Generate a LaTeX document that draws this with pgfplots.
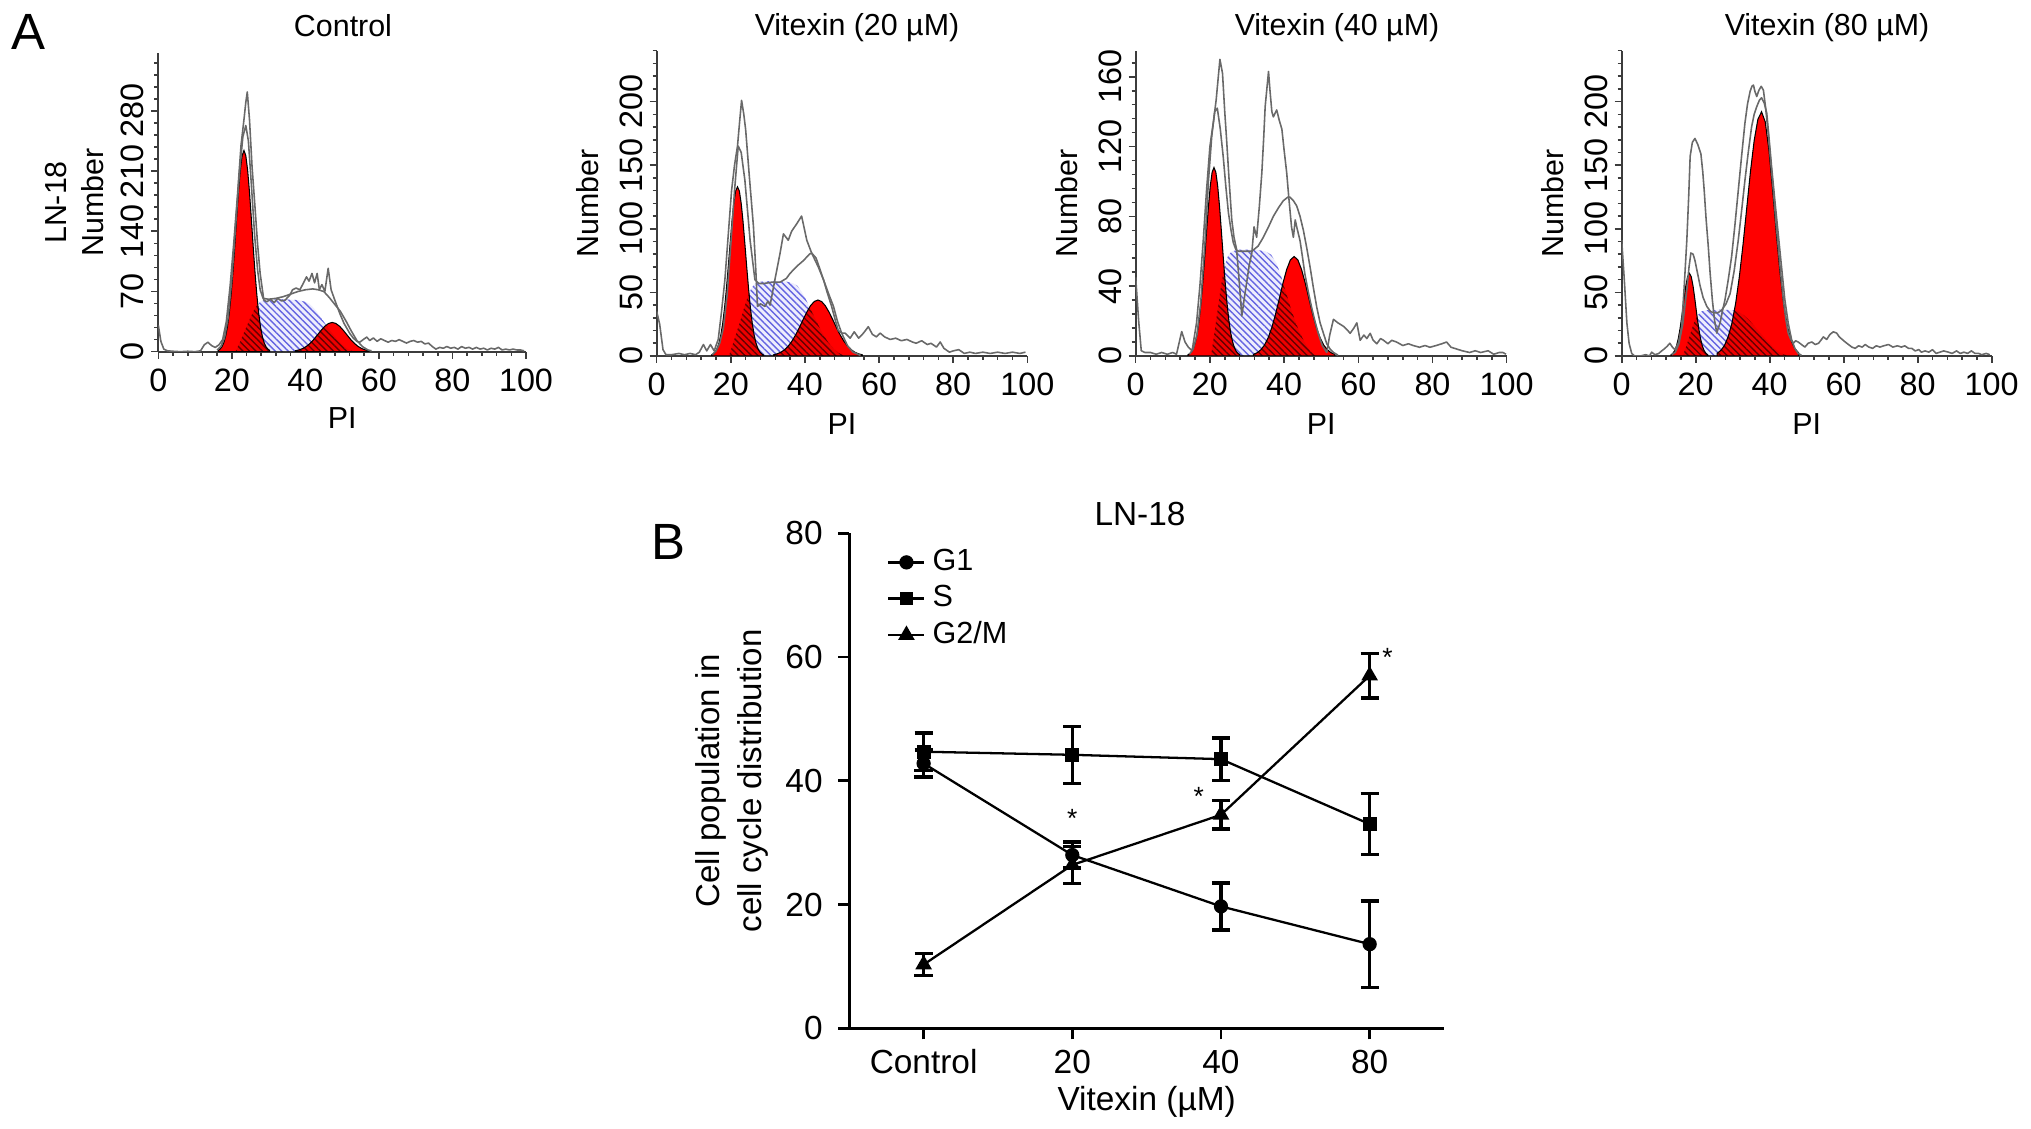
\documentclass[border=0pt]{standalone}
\usepackage{fontspec}
\setmainfont{Liberation Sans}
\usepackage{pgfplots}
\pgfplotsset{compat=1.18}
\usetikzlibrary{patterns.meta}

\definecolor{histred}{RGB}{255,0,0}
\definecolor{hatchblue}{RGB}{110,110,228}
\definecolor{sfill}{RGB}{238,238,253}
\definecolor{histgray}{RGB}{105,105,105}
\definecolor{axgray}{RGB}{60,60,60}

\newcommand{\fA}{\fontsize{9.2}{10.5}\selectfont}
\newcommand{\fAt}{\fontsize{8.65}{10}\selectfont}
\newcommand{\fB}{\fontsize{9.5}{11}\selectfont}

\pgfplotsset{
  histo/.style={
    anchor=south west, scale only axis,
    axis lines*=left,
    xmin=0, xmax=100, ymin=0,
    xtick={0,20,...,100}, minor x tick num=4, minor y tick num=4,
    tick align=outside,
    major tick length=0.7mm, minor tick length=0.4mm,
    axis line style={axgray, line width=0.55pt},
    every tick/.append style={axgray, line width=0.45pt},
    tick label style={font=\fA},
    xticklabel style={anchor=center, yshift=-2.15mm},
    yticklabel style={anchor=center, xshift=-1.85mm, rotate=90},
    xlabel={PI},
    xlabel style={at={(axis description cs:0.5,-0.222)}, anchor=center, font=\fAt},
    ylabel style={at={(axis description cs:-0.186,0.5)}, anchor=center, align=center, font=\fontsize{8.65}{10.5}\selectfont},
    /pgf/number format/assume math mode=true,
    scaled y ticks=false,
  },
  raw/.style={histgray, line width=0.45pt, mark=none, line join=round},
  gpeak/.style={fill=histred, draw=black, line width=0.3pt, mark=none},
  sfillst/.style={draw=none, fill=sfill, blend mode=multiply, mark=none},
  shatch/.style={draw=none, pattern={Lines[angle=-45,distance=1.3pt,line width=0.4pt]}, pattern color=hatchblue, blend mode=multiply, mark=none},
}

\begin{document}
\begin{tikzpicture}
\useasboundingbox (0,0) rectangle (20.31,11.29);

% ---------------- Panel A: Control ----------------
\begin{axis}[histo, at={(1.583cm,7.773cm)}, width=3.677cm, height=2.984cm,
  ymax=347, ytick={0,70,...,350}, ylabel={LN-18\\Number},
  ylabel style={at={(axis description cs:-0.228,0.5)}}]
\addplot[gpeak] coordinates {(16.3,1.5) (16.8,3.0) (17.3,5.7) (17.8,10.3) (18.3,17.7) (18.8,28.9) (19.3,44.8) (19.8,66) (20.3,92.4) (20.8,122.7) (21.3,155) (21.8,185.5) (22.3,211) (22.8,228) (23.3,234) (23.8,228) (24.3,211) (24.8,185.5) (25.3,155) (25.8,122.7) (26.3,92.4) (26.8,66) (27.3,44.8) (27.8,28.9) (28.3,17.7) (28.8,10.3) (29.3,5.7) (29.8,3.0) (30.3,1.5)} \closedcycle;
\addplot[gpeak] coordinates {(37.3,1.1) (38.3,2.1) (39.3,3.7) (40.3,6.2) (41.3,9.8) (42.3,14.3) (43.3,19.6) (44.3,24.9) (45.3,29.6) (46.3,32.8) (47.3,34) (48.3,32.8) (49.3,29.6) (50.3,24.9) (51.3,19.6) (52.3,14.3) (53.3,9.8) (54.3,6.2) (55.3,3.7) (56.3,2.1) (57.3,1.1)} \closedcycle;
\addplot[sfillst] coordinates {(21,0) (22,9) (23,19) (24,29) (25,39) (26,48) (27,55) (28,59) (30,60.5) (34,61) (38,60) (40,58) (41,56) (42,52) (43,47) (44,41) (45,35) (46,29) (47,23) (48,17.5) (49,12.5) (50,8) (51,4.5) (52,2) (53,0.5) (54,0)} \closedcycle;
\addplot[shatch] coordinates {(21,0) (22,9) (23,19) (24,29) (25,39) (26,48) (27,55) (28,59) (30,60.5) (34,61) (38,60) (40,58) (41,56) (42,52) (43,47) (44,41) (45,35) (46,29) (47,23) (48,17.5) (49,12.5) (50,8) (51,4.5) (52,2) (53,0.5) (54,0)} \closedcycle;
% model fit
\addplot[raw] coordinates {(16,2) (17,6) (18,16) (19,40) (20,85) (21,145) (22,205) (23,250) (23.8,263) (24.5,245) (25.3,195) (26.2,135) (27,95) (27.7,72) (28.5,62) (30,61) (32,62) (34,64) (36,67) (38,70) (40,72) (42,73) (43.5,72) (45,70) (46.5,63) (48,55) (49.5,47) (51,36) (52.5,24) (54,13) (55.5,6) (57,2) (58,1)};
% measured histogram
\addplot[raw] coordinates {(0,31) (0.7,12) (1.5,3) (2.5,1) (4,0.5) (6,0) (8,0.5) (10,0) (11.5,1) (12.5,8) (13.5,11) (14.5,7) (15.5,5) (16.5,8) (17.5,14) (18.5,35) (19.5,75) (20.5,125) (21.5,180) (22.5,240) (23.3,270) (23.8,290) (24.2,302) (24.8,270) (25.5,215) (26.3,168) (27,125) (27.7,91) (28.7,60) (29.5,58) (30.5,61) (31.5,57) (32.5,62) (33.5,59) (34.5,60) (35.8,66) (36.5,72) (37.5,74) (38.5,72) (39.5,80) (40.3,87) (41,82) (41.8,91) (42.5,80) (43.2,91) (43.8,72) (44.5,78) (45.3,70) (46.2,97) (47,72) (48,60) (49.4,44) (50.5,33) (51.3,27) (52.1,21) (53,16) (54,12) (54.8,11) (55.7,14) (56.7,17) (57.5,13) (58.5,16) (59.5,12) (60.5,15) (61.5,13) (62.5,11) (63.5,13) (64.5,12) (65.5,14) (66.5,12) (67.5,10) (68.5,12) (69.5,13) (70.5,11) (71.5,12) (72.5,9) (73.5,10) (74.5,6) (75.5,3) (76.5,5) (77.5,4) (78.5,6) (79.5,4) (80.5,5) (81.5,3) (82.5,6) (83.5,4) (84.5,5) (85.5,3) (86.5,5) (87.5,3) (88.5,4) (89.5,2) (90.5,4) (91.5,3) (92.5,5) (93.5,2) (94.5,3) (95.5,2) (96.5,3) (97.5,2) (98.5,2) (99.5,1)};
\end{axis}

% ---------------- Panel A: Vitexin 20 ----------------
\begin{axis}[histo, at={(6.567cm,7.73cm)}, width=3.706cm, height=3.053cm,
  ymax=240, ytick={0,50,...,250}, ylabel={Number}]
\addplot[gpeak] coordinates {(14.8,0.8) (15.3,1.7) (15.8,3.2) (16.3,5.9) (16.8,10.1) (17.3,16.4) (17.8,25.4) (18.3,37.5) (18.8,52.5) (19.3,69.7) (19.8,87.9) (20.3,105.5) (20.8,120) (21.3,129.7) (21.8,133) (22.3,129.7) (22.8,120) (23.3,105.5) (23.8,87.9) (24.3,69.7) (24.8,52.5) (25.3,37.5) (25.8,25.4) (26.3,16.4) (26.8,10.1) (27.3,5.9) (27.8,3.2) (28.3,1.7) (28.8,0.8)} \closedcycle;
\addplot[gpeak] coordinates {(31.5,0.9) (32.5,1.7) (33.5,2.9) (34.5,4.9) (35.5,7.8) (36.5,11.7) (37.5,16.6) (38.5,22.4) (39.5,28.6) (40.5,34.5) (41.5,39.5) (42.5,42.8) (43.5,44) (44.5,42.8) (45.5,39.5) (46.5,34.5) (47.5,28.6) (48.5,22.4) (49.5,16.6) (50.5,11.7) (51.5,7.8) (52.5,4.9) (53.5,2.9) (54.5,1.7) (55.5,0.9)} \closedcycle;
\addplot[sfillst] coordinates {(19.5,0) (20.5,9) (21.5,18) (22.5,27) (23.5,37) (24.5,46) (25.5,53) (26.5,57) (28,58.5) (32,59) (35,58.5) (37,57) (38,55) (39,51) (40,46) (41,40) (42,34) (43,28) (44,22) (45,16.5) (46,12) (47,8) (48,5) (49,2.5) (50,1) (51,0)} \closedcycle;
\addplot[shatch] coordinates {(19.5,0) (20.5,9) (21.5,18) (22.5,27) (23.5,37) (24.5,46) (25.5,53) (26.5,57) (28,58.5) (32,59) (35,58.5) (37,57) (38,55) (39,51) (40,46) (41,40) (42,34) (43,28) (44,22) (45,16.5) (46,12) (47,8) (48,5) (49,2.5) (50,1) (51,0)} \closedcycle;
\addplot[raw] coordinates {(15,1) (16,4) (17,10) (18,22) (19,48) (20,88) (21,130) (22,165) (22.8,160) (23.8,138) (25.2,91) (26.5,60) (27.5,57) (29,57) (31,58) (33.3,58) (35,61) (36,65) (38,71) (39.6,75) (41.2,80) (41.8,81) (43,77) (43.6,72) (45,60) (46.5,48) (47.7,39) (48.8,27) (49.9,18) (51.5,8) (53,3) (55,0.5)};
\addplot[raw] coordinates {(0,35) (0.8,25) (1.7,5) (2.5,1) (4,1) (6,2) (7.5,1) (9,2) (10.5,1) (11.5,3) (12.6,9) (13.5,4) (14.5,9) (15.5,4) (16.6,13) (17.5,35) (18.4,60) (19.3,95) (20.2,130) (21,150) (21.8,165) (22.4,185) (22.9,201) (23.5,190) (24,178) (25,141) (26.1,102) (26.7,70) (27.2,39) (28,41) (29.2,39) (30,43) (30.6,40) (31.9,60) (33.3,81) (34.2,96) (35.5,91) (36.4,98) (37.8,104) (39.1,110) (40.5,91) (41.8,81) (43.6,70) (45,60) (46,50) (47.2,39) (48.2,28) (49,20) (50,18) (50.8,18) (52.2,14) (53.3,19) (54.5,14) (55.8,18) (57.1,23) (58.2,17) (59.3,15) (60.3,18) (61.5,15) (63,13) (64.5,14) (66,12) (67.5,13) (69,11) (70,10) (71.5,12) (73,9) (74,10) (75.5,7) (76.5,11) (77.5,6) (79,3) (80,4) (81.5,5) (83,2) (84.5,3) (86,2) (88,3) (90,2) (92,3) (94,2) (96,3) (98,2) (99.5,3)};
\end{axis}

% ---------------- Panel A: Vitexin 40 ----------------
\begin{axis}[histo, at={(11.357cm,7.73cm)}, width=3.71cm, height=3.054cm,
  ymax=175, ytick={0,40,...,200}, ylabel={Number}]
\addplot[gpeak] coordinates {(14.1,0.7) (14.6,1.4) (15.1,2.6) (15.6,4.8) (16.1,8.2) (16.6,13.3) (17.1,20.6) (17.6,30.5) (18.1,42.7) (18.6,56.6) (19.1,71.4) (19.6,85.6) (20.1,97.4) (20.6,105.3) (21.1,108) (21.6,105.3) (22.1,97.4) (22.6,85.6) (23.1,71.4) (23.6,56.6) (24.1,42.7) (24.6,30.5) (25.1,20.6) (25.6,13.3) (26.1,8.2) (26.6,4.8) (27.1,2.6) (27.6,1.4) (28.1,0.7)} \closedcycle;
\addplot[gpeak] coordinates {(31.7,0.9) (32.7,1.8) (33.7,3.5) (34.7,6.2) (35.7,10.4) (36.7,16.4) (37.7,24) (38.7,32.8) (39.7,41.8) (40.7,49.6) (41.7,55.1) (42.7,57) (43.7,55.1) (44.7,49.6) (45.7,41.8) (46.7,32.8) (47.7,24) (48.7,16.4) (49.7,10.4) (50.7,6.2) (51.7,3.5) (52.7,1.8) (53.7,0.9)} \closedcycle;
\addplot[sfillst] coordinates {(20.3,0) (21,10) (22,25) (23,40) (24,52) (25,58) (26,60) (28,61) (32,61) (35,60) (36.5,58) (38,53) (39,47) (40,40) (41,33) (42,26) (43,20) (44,14.5) (45,10) (46,6) (47,3) (48,1) (49,0)} \closedcycle;
\addplot[shatch] coordinates {(20.3,0) (21,10) (22,25) (23,40) (24,52) (25,58) (26,60) (28,61) (32,61) (35,60) (36.5,58) (38,53) (39,47) (40,40) (41,33) (42,26) (43,20) (44,14.5) (45,10) (46,6) (47,3) (48,1) (49,0)} \closedcycle;
\addplot[raw] coordinates {(14.5,1) (15.5,4) (16.5,12) (17.5,30) (18.7,66) (19.6,100) (20.5,126) (21.3,140) (22,142) (22.8,130) (23.6,114) (24.3,97) (25,82) (25.7,72) (26.3,65) (27,61) (27.7,60) (29,60) (31.3,60) (33,63) (34.4,68) (35.8,74) (37.1,80) (38.5,85) (39.8,89) (41,91) (41.6,91) (42.5,89) (43.4,86) (44.3,80) (45.2,72) (46.1,62) (47,51) (47.9,39) (48.8,28) (49.7,19) (50.6,13) (51.5,7) (52.4,4) (53.3,2) (54.5,0.5)};
\addplot[raw] coordinates {(0,45) (0.8,20) (1.5,3) (2.5,2) (4,2) (5.5,1) (7,2) (8.5,1) (10,2) (11,1) (12.4,14) (13.3,8) (14.2,5) (15.2,3) (16.4,19) (17.3,40) (18.2,66) (19.1,95) (20,120) (21,135) (21.7,147) (22.7,170) (23.4,162) (24,140) (24.5,124) (25.2,100) (25.9,78) (26.5,68) (27.2,61) (28,40) (28.6,23) (29.2,32) (29.9,42) (30.6,52) (31.3,59) (31.9,74) (32.6,68) (33.3,85) (34,105) (34.5,125) (34.9,143) (35.8,163) (36.2,152) (36.7,140) (37.1,137) (38,141) (38.7,135) (39.4,130) (40,118) (40.7,105) (41.3,90) (42,74) (42.5,68) (43,78) (43.4,74) (44.3,66) (45,56) (45.6,47) (46.5,37) (47.4,28) (48.3,20) (49.2,13) (50.3,6) (51.5,2) (52.3,12) (53.3,21) (54.5,19) (56,17) (57,15) (57.8,13) (58.8,16) (59.6,19) (60.5,9) (61.5,12) (62.3,10) (63.2,13) (64,9) (65,7) (66,10) (66.8,9) (68,7) (69,9) (70.3,8) (72,6) (73.5,7) (74.8,6) (76.5,5) (78,6) (79.3,5) (81,6) (82.5,7) (83.8,8) (85,5) (86.5,4) (88,3) (90,2) (91.5,3) (93,2) (95,3) (96.5,1) (98,2) (99,2) (99.8,1)};
\end{axis}

% ---------------- Panel A: Vitexin 80 ----------------
\begin{axis}[histo, at={(16.217cm,7.73cm)}, width=3.70cm, height=3.053cm,
  ymax=240, ytick={0,50,...,250}, ylabel={Number}]
\addplot[gpeak] coordinates {(13.3,0.8) (13.8,2) (14.3,4.1) (14.8,7.8) (15.3,13.7) (15.8,22) (16.3,32.5) (16.8,44.1) (17.3,54.7) (17.8,62.3) (18.3,65) (18.8,62.3) (19.3,54.7) (19.8,44.1) (20.3,32.5) (20.8,22) (21.3,13.7) (21.8,7.8) (22.3,4.1) (22.8,2) (23.3,0.8)} \closedcycle;
\addplot[gpeak] coordinates {(25.8,2.1) (26.8,4.4) (27.8,8.4) (28.8,15.4) (29.8,25.9) (30.8,41.5) (31.8,62.4) (32.8,87.9) (33.8,116.5) (34.8,145) (35.8,169.3) (36.8,186) (37.8,192) (38.8,184) (39.8,161.5) (40.8,130) (41.8,96) (42.8,65.1) (43.8,40.5) (44.8,23) (45.8,12.1) (46.8,5.8) (47.8,2.5)} \closedcycle;
\addplot[sfillst] coordinates {(16.5,0) (17.5,8) (18.5,17) (19.5,26) (20.5,32) (21.5,35) (23,36) (27,36.5) (30,36) (31.5,35) (33,32) (34.5,28) (36,23) (37.5,18) (39,13) (40.5,8) (42,4) (43.5,1.5) (45,0)} \closedcycle;
\addplot[shatch] coordinates {(16.5,0) (17.5,8) (18.5,17) (19.5,26) (20.5,32) (21.5,35) (23,36) (27,36.5) (30,36) (31.5,35) (33,32) (34.5,28) (36,23) (37.5,18) (39,13) (40.5,8) (42,4) (43.5,1.5) (45,0)} \closedcycle;
\addplot[raw] coordinates {(13.5,1) (14.5,3) (15.5,10) (16.5,25) (17.6,52) (18.2,70) (18.7,81) (19.3,80) (19.8,75) (20.5,65) (21.2,55) (22,46) (23,39) (24,35) (24.8,34) (26,34) (27,36) (28.2,41) (29.3,49) (30.4,67) (31.5,91) (32.4,114) (33.3,138) (34.2,160) (35.1,180) (35.8,190) (36.5,196) (37.2,201) (37.8,203) (38.5,199) (39.2,191) (39.8,172) (40.5,149) (41.4,122) (42.3,96) (43.2,70) (44.1,44) (45,26) (45.9,13) (46.8,6) (47.7,2) (48.6,0.5)};
\addplot[raw] coordinates {(0,91) (0.7,60) (1.4,26) (2,10) (2.7,2) (3.5,0) (5,0) (6.5,1) (7.5,0) (8.1,3) (9,1) (10,2) (10.8,4) (11.7,6) (12.4,8) (13,10) (13.7,7) (14.4,5) (15.3,10) (16.2,23) (16.9,55) (17.6,91) (18.1,125) (18.5,157) (19.1,168) (19.8,171) (20.6,166) (21.4,159) (21.9,145) (22.3,130) (22.8,108) (23.4,86) (23.9,65) (24.5,44) (25.1,28) (25.7,18) (26.1,22) (26.6,26) (27.2,35) (27.9,44) (28.8,60) (29.7,78) (30.6,103) (31.5,130) (32.4,157) (33.3,183) (34,198) (34.7,208) (35.2,212) (35.6,213) (36,208) (36.5,204) (37.1,209) (37.7,212) (38.3,209) (38.9,195) (39.6,175) (40.3,152) (41,130) (41.6,108) (42.3,86) (43,64) (43.7,44) (44.4,28) (45,18) (45.7,13) (46.4,10) (47,12) (47.7,11) (48.6,9) (49.5,7) (50.4,10) (51.4,11) (52.3,9) (53.2,10) (54,13) (54.5,15) (55.4,13) (56.3,17) (57.2,19) (58.1,18) (58.8,15) (59.6,13) (60.4,11) (61.3,9) (62.2,7) (63.1,6) (64,8) (65,7) (65.8,9) (66.8,7) (67.8,6) (68.8,8) (69.8,7) (70.8,8) (72.1,9) (73.3,7) (74.5,8) (75.6,7) (76.5,8) (77.5,6) (78.4,6) (79.3,4) (80.3,5) (81,3) (82,4) (83,3) (84,5) (85,2) (86,3) (87,4) (88.3,3) (89.3,2) (90.5,4) (91.5,2) (92.5,3) (93.5,2) (94.5,4) (95.5,2) (96.5,2) (97.3,1) (98.5,2) (99.5,1)};
\end{axis}

% ---------------- Panel B ----------------
\begin{axis}[at={(8.493cm,1.007cm)}, anchor=south west, scale only axis,
  width=5.947cm, height=4.95cm,
  xmin=-0.5, xmax=3.5, ymin=0, ymax=80,
  axis lines*=left,
  axis line style={black, line width=0.8pt},
  xtick={0,1,2,3}, xticklabels={Control,20,40,80},
  ytick={0,20,...,80},
  tick align=outside, major tick length=1.1mm,
  every tick/.append style={black, line width=0.8pt},
  tick label style={font=\fB},
  xticklabel style={anchor=center, yshift=-2.25mm},
  yticklabel style={anchor=east, inner sep=0pt, xshift=-1.5mm},
  xlabel={Vitexin (µM)},
  xlabel style={at={(axis description cs:0.5,-0.148)}, anchor=center, font=\fB},
  ylabel={Cell population in\\cell cycle distribution},
  ylabel style={at={(axis description cs:-0.197,0.5)}, anchor=center, align=center, font=\fontsize{9.4}{11.9}\selectfont},
  /pgf/number format/assume math mode=true,
  legend style={at={(rel axis cs:0.045,0.998)}, anchor=north west, draw=none, fill=none,
    font=\fontsize{8.7}{10}\selectfont, row sep=-0.45mm,
    /tikz/every even column/.append style={column sep=0pt}},
  legend cell align=left,
  legend image code/.code={\draw[mark repeat=2,mark phase=2] plot coordinates {(0cm,0cm) (0.18cm,0cm) (0.36cm,0cm)};},
]
\addplot[black, line width=0.65pt, mark=*, mark size=1.7pt,
  error bars/.cd, y dir=both, y explicit,
  error bar style={line width=0.95pt},
  error mark options={rotate=90, mark size=2.6pt, line width=0.95pt}]
  coordinates {(0,42.8) +- (0,2.2) (1,28) +- (0,2.1) (2,19.7) +- (0,3.8) (3,13.6) +- (0,7)};
\addlegendentry{G1}
\addplot[black, line width=0.65pt, mark=square*, mark size=1.65pt,
  error bars/.cd, y dir=both, y explicit,
  error bar style={line width=0.95pt},
  error mark options={rotate=90, mark size=2.6pt, line width=0.95pt}]
  coordinates {(0,44.7) +- (0,3) (1,44.2) +- (0,4.6) (2,43.5) +- (0,3.4) (3,33) +- (0,4.9)};
\addlegendentry{S}
\addplot[black, line width=0.65pt, mark=triangle*, mark size=2.1pt,
  error bars/.cd, y dir=both, y explicit,
  error bar style={line width=0.95pt},
  error mark options={rotate=90, mark size=2.6pt, line width=0.95pt}]
  coordinates {(0,10.3) +- (0,1.8) (1,26.4) +- (0,3) (2,34.5) +- (0,2.3) (3,57) +- (0,3.6)};
\addlegendentry{G2/M}
\node[font=\fontsize{7.5}{8}\selectfont, yshift=-0.7mm] at (axis cs:1,35) {*};
\node[font=\fontsize{7.5}{8}\selectfont, yshift=-0.7mm] at (axis cs:1.85,38.6) {*};
\node[font=\fontsize{7.5}{8}\selectfont, yshift=-0.7mm] at (axis cs:3.12,61) {*};
\end{axis}

% titles and panel letters
\node[font=\fAt] at (3.43,11.03) {Control};
\node[font=\fAt] at (8.57,11.01) {Vitexin (20 µM)};
\node[font=\fAt] at (13.37,11.01) {Vitexin (40 µM)};
\node[font=\fAt] at (18.27,11.01) {Vitexin (80 µM)};
\node[font=\fontsize{14.5}{16}\selectfont] at (0.28,10.97) {A};
\node[font=\fontsize{14.5}{16}\selectfont] at (6.68,5.87) {B};
\node[font=\fB] at (11.40,6.15) {LN-18};
\end{tikzpicture}
\end{document}
